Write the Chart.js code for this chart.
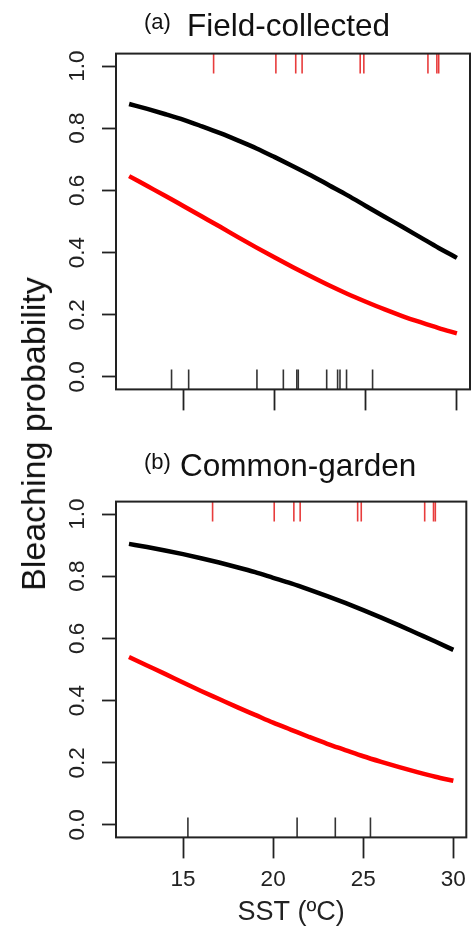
<!DOCTYPE html>
<html>
<head>
<meta charset="utf-8">
<script src="https://cdn.jsdelivr.net/npm/chart.js@4.4.0/dist/chart.umd.min.js"></script>
<style>
  body { margin: 0; background: #fff; width: 474px; height: 931px; position: relative; overflow: hidden;
         font-family: "Liberation Sans", Arial, sans-serif; color: #111; }
  .wrap { position: absolute; left: 0; width: 474px; }
  #wrapA { top: 0; height: 420px; }
  #wrapB { top: 440px; height: 491px; }
  .lbl { position: absolute; white-space: nowrap; line-height: 1; }
</style>
</head>
<body>
<div class="wrap" id="wrapA"><canvas id="chartA"></canvas></div>
<div class="wrap" id="wrapB"><canvas id="chartB"></canvas></div>

<div class="lbl" style="left:144px;top:11px;font-size:22px">(a)</div>
<div class="lbl" style="left:187px;top:10px;font-size:31.5px">Field-collected</div>
<div class="lbl" style="left:144px;top:451px;font-size:22px">(b)</div>
<div class="lbl" style="left:180px;top:450px;font-size:31.5px">Common-garden</div>
<div class="lbl" style="left:33px;top:434px;font-size:34px;transform:translate(-50%,-50%) rotate(-90deg)">Bleaching probability</div>

<script>
// SST grid the fitted curves were read at
var sst = [12, 13, 14, 15, 16, 17, 18, 19, 20, 21, 22, 23, 24, 25, 26, 27, 28, 29, 30];

// (a) field-collected
var fieldBlack = [0.878, 0.862, 0.845, 0.827, 0.806, 0.784, 0.760, 0.735, 0.707, 0.678,
                  0.648, 0.616, 0.584, 0.550, 0.516, 0.483, 0.449, 0.415, 0.383];
var fieldRed = [0.646, 0.614, 0.582, 0.549, 0.516, 0.483, 0.449, 0.416, 0.384, 0.353,
                0.323, 0.294, 0.267, 0.242, 0.218, 0.196, 0.176, 0.157, 0.140];

// (b) common-garden
var gardenBlack = [0.904, 0.894, 0.883, 0.871, 0.858, 0.844, 0.829, 0.813, 0.795, 0.777,
                   0.757, 0.736, 0.714, 0.691, 0.667, 0.642, 0.616, 0.590, 0.563];
var gardenRed = [0.540, 0.513, 0.486, 0.458, 0.431, 0.405, 0.379, 0.354, 0.329, 0.306,
                 0.283, 0.261, 0.241, 0.221, 0.203, 0.186, 0.170, 0.155, 0.142];

// rug marks (SST of observations)
var rugTop = [16.64, 20.06, 21.15, 21.5, 24.69, 24.89, 28.41, 28.9, 29.0];
var rugFieldBottom = [14.33, 15.27, 19.02, 20.47, 21.21, 21.29, 22.85, 23.45, 23.58, 23.94, 25.37];
var rugGardenBottom = [15.27, 21.33, 23.45, 25.4];

var xTicks = [15, 20, 25, 30];
var yTicks = [0, 0.2, 0.4, 0.6, 0.8, 1.0];

var FONT = '"Liberation Sans", Arial, sans-serif';
var X_MIN = 11.28, X_MAX = 30.72, Y_MIN = -0.04, Y_MAX = 1.04;

var boxPlugin = {
  id: 'rbox',
  afterDatasetsDraw: function (chart) {
    var a = chart.chartArea, ctx = chart.ctx;
    ctx.save();
    ctx.strokeStyle = '#222';
    ctx.lineWidth = 2;
    ctx.strokeRect(a.left, a.top, a.right - a.left, a.bottom - a.top);
    ctx.restore();
  }
};

function curve(vals, color) {
  return {
    type: 'line',
    data: sst.map(function (x, i) { return { x: x, y: vals[i] }; }),
    borderColor: color,
    borderWidth: 4.5,
    pointRadius: 0,
    cubicInterpolationMode: 'monotone',
    fill: false
  };
}

function rug(vals, edge, color) {
  return {
    type: 'scatter',
    data: vals.map(function (x) { return { x: x, y: edge }; }),
    showLine: false,
    pointStyle: 'line',
    pointRotation: 90,
    pointRadius: 20,
    pointBorderWidth: 1.6,
    pointBorderColor: color,
    pointBackgroundColor: color,
    clip: 0
  };
}

function makePanel(id, black, red, rugBottom, showX, padTop, xHeight) {
  return new Chart(document.getElementById(id), {
    type: 'line',
    data: {
      datasets: [
        rug(rugTop, Y_MAX, 'rgb(232,60,60)'),
        rug(rugBottom, Y_MIN, '#333'),
        curve(black, '#000'),
        curve(red, '#ff0000')
      ]
    },
    options: {
      responsive: true,
      maintainAspectRatio: false,
      animation: false,
      events: [],
      layout: { autoPadding: false, padding: { left: 0, right: 4, top: padTop, bottom: 0 } },
      plugins: { legend: { display: false }, tooltip: { enabled: false }, title: { display: false } },
      scales: {
        x: {
          type: 'linear',
          min: X_MIN,
          max: X_MAX,
          afterBuildTicks: function (s) { s.ticks = xTicks.map(function (v) { return { value: v }; }); },
          afterFit: function (s) { s.height = xHeight; },
          border: { display: false },
          grid: { drawOnChartArea: false, drawTicks: true, tickLength: 21, tickWidth: 1.8, tickColor: '#222' },
          ticks: { display: showX, autoSkip: false, maxRotation: 0, padding: 8, color: '#222',
                   font: { family: FONT, size: 22.5 } },
          title: { display: showX, text: 'SST (ºC)', color: '#222',
                   font: { family: FONT, size: 27, lineHeight: 1.2 }, padding: { top: 4, bottom: 2 } }
        },
        y: {
          min: Y_MIN,
          max: Y_MAX,
          afterBuildTicks: function (s) { s.ticks = yTicks.map(function (v) { return { value: v }; }); },
          afterFit: function (s) { s.width = 116; },
          border: { display: false },
          grid: { drawOnChartArea: false, drawTicks: true, tickLength: 14, tickWidth: 1.8, tickColor: '#222' },
          ticks: { minRotation: 90, maxRotation: 90, crossAlign: 'center', padding: 9, color: '#222',
                   font: { family: FONT, size: 22.5 },
                   callback: function (v) { return v.toFixed(1); } }
        }
      }
    },
    plugins: [boxPlugin]
  });
}

makePanel('chartA', fieldBlack, fieldRed, rugFieldBottom, false, 53.6, 30.6);
makePanel('chartB', gardenBlack, gardenRed, rugGardenBottom, true, 61.6, 93.6);
</script>
</body>
</html>
